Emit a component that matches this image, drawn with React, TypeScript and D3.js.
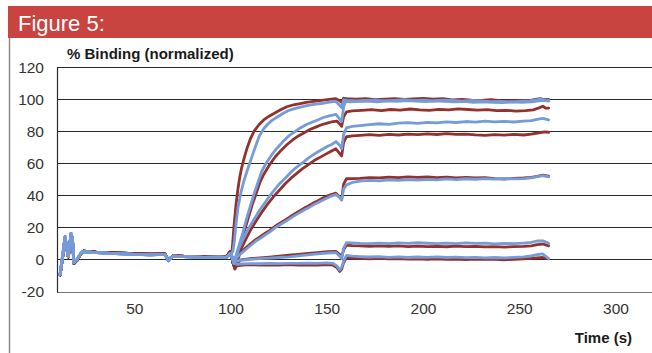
import React, { useEffect, useRef } from 'react';
import * as d3 from 'd3';

type Pt = [number, number];

// shared pre-injection baseline (all curves sit on top of each other here)
const baselineRed: Pt[] = [
  [11.2, -9.7], [12.5, 1], [13.8, 13], [14.8, 6], [15.5, 1.5], [16.9, 15.5], [17.6, 13],
  [18.4, -2.5], [20, -0.5], [22, 3.5], [23.3, 5.2], [30, 4.6], [40, 4], [50, 3.6],
  [58, 3.3], [65.7, 3.4], [67.4, -0.3], [70, 2.3], [78, 1.8], [86, 1.6], [94, 1.7], [97.8, 1.8], [99.5, 4.8]
];
const baselineBlue: Pt[] = [
  [11.2, -9.5], [12.5, 2], [13.8, 14.2], [14.8, 6.5], [15.5, 1.7], [16.9, 16.3], [17.6, 13.5],
  [18.4, -2], [20, 0], [22, 3.8], [23.3, 4.8], [30, 4.2], [40, 3.6], [50, 3.2],
  [58, 2.9], [65.7, 3.2], [67.4, -0.8], [70, 2.1], [78, 1.6], [86, 1.3], [94, 1.4], [97.8, 1.3], [99.5, 3.5]
];

// association (100-157 s) + dissociation (158-265 s), one array per trace
const aRed: Pt[] = [
  [100, 3], [100.6, 6], [101.5, 20], [102.5, 33], [103.5, 43], [104.5, 51], [105.5, 57], [107, 64],
  [108.5, 70], [110, 75], [112, 80], [114.5, 84], [117, 87], [120, 89.5], [123, 91.5], [126, 93.5],
  [129, 95.2], [133, 96.6], [136, 97.2], [139, 98], [143, 98.6], [147, 99.2], [151, 99.8], [154.5, 100.2],
  [156.5, 99], [157.5, 97.8], [158.5, 100.5], [160, 100.3], [165, 100], [170, 100.2], [175, 99.6],
  [180, 100], [185, 100.3], [190, 99.8], [195, 100.1], [200, 100.4], [205, 99.9], [210, 100.2],
  [215, 99.5], [220, 99.8], [225, 99.3], [230, 99.1], [235, 99.6], [240, 99], [245, 98.8], [250, 99.2],
  [255, 99], [258, 99.8], [261, 100.2], [263, 99.6], [265, 99.8]
];
const aBlue: Pt[] = [
  [100, 3.5], [101, 5], [101.8, 12], [102.6, 22], [103.6, 32], [105, 41], [106.5, 48], [108.3, 55],
  [110, 61], [112, 68], [114.7, 77], [117, 81.5], [119, 84.3], [121.3, 86.7], [124, 88.8], [127, 91],
  [129.6, 92.7], [133, 94], [136, 95], [140, 96], [144, 96.8], [148, 97.4], [152, 98.2], [154.5, 98.5],
  [156.5, 96], [157.5, 94.7], [158.5, 99.5], [160, 99.2], [165, 98.8], [170, 99.1], [175, 99.4],
  [180, 98.9], [185, 99.2], [190, 99.6], [195, 99], [200, 99.3], [205, 98.8], [210, 99.4], [215, 99.1],
  [220, 98.7], [225, 99.2], [230, 98.8], [235, 98.4], [240, 98.6], [245, 98.2], [250, 98.5], [255, 98.8],
  [258, 99.4], [261, 99.9], [263, 99.3], [265, 99.1]
];
const bRed: Pt[] = [
  [100, 4], [101, -2], [102, -4], [103, 2], [105, 10], [107, 18], [109, 26], [111, 34], [113, 41],
  [115, 48], [117, 53], [120, 59], [123, 64], [126, 68], [129, 71.5], [132, 74.5], [135, 77], [138, 79],
  [141, 81], [144, 82.5], [147, 84], [150, 85], [153, 86], [155, 86.3], [156.5, 84.5], [157.5, 83],
  [158.5, 89], [160, 92], [163, 92.6], [168, 93], [173, 93.4], [178, 92.8], [183, 93.5], [188, 93.1],
  [193, 93.8], [198, 93.3], [203, 93], [208, 93.6], [213, 93.2], [218, 93.9], [223, 93.5], [228, 93.1],
  [233, 93.4], [238, 92.8], [243, 93], [248, 92.5], [253, 92.8], [257, 93.3], [260, 94.5], [262, 95.5],
  [263.5, 94.3], [265, 94.4]
];
const bBlue: Pt[] = [
  [100, 3.5], [101.5, -1], [102.5, 2], [104, 8], [106, 16], [108, 25], [110, 33], [112, 41], [114, 48],
  [116, 55], [118, 59.5], [121, 65], [124, 69.5], [127, 73.5], [130, 77], [133, 79.5], [136, 82],
  [139, 84], [142, 85.5], [145, 87], [148, 88.5], [151, 89.5], [154.5, 90.5], [156.5, 87.5], [157.5, 86],
  [158.5, 95], [159.5, 98.5], [162, 98.2], [166, 98.5], [171, 98.8], [176, 98.3], [181, 98.9],
  [186, 98.6], [191, 99], [196, 98.7], [201, 98.4], [206, 98.9], [211, 98.6], [216, 98.2], [221, 98.5],
  [226, 98], [231, 98.3], [236, 98], [241, 97.8], [246, 98.2], [251, 97.9], [256, 98.3], [260, 98.9],
  [263, 99.2], [265, 98.8]
];
const cRed: Pt[] = [
  [100, 4], [101, -2], [102, -5], [103, -1], [105, 6], [107, 11], [110, 18], [113, 24], [116, 29.5],
  [119, 34.5], [122, 39], [125, 43], [128, 47], [131, 50.5], [134, 53.5], [137, 56.5], [140, 59],
  [143, 61.5], [146, 63.5], [149, 65.5], [152, 67.5], [154.5, 69], [156.5, 66], [157.5, 64.5],
  [158.5, 73], [160, 76.5], [163, 77], [167, 77.3], [172, 77.8], [177, 77.4], [182, 78], [187, 77.6],
  [192, 78.1], [197, 77.8], [202, 78.3], [207, 77.9], [212, 78.4], [217, 78], [222, 78.2], [227, 77.7],
  [232, 77.4], [237, 77.8], [242, 77.5], [247, 78], [252, 77.6], [256, 78.2], [260, 79], [263, 79.5],
  [265, 79.3]
];
const cBlue: Pt[] = [
  [100, 3.5], [101.5, -2], [102.5, 1], [104, 6.5], [106, 12], [108, 17], [110, 21], [112, 25], [115, 31],
  [118, 36], [120, 39.5], [123, 44], [125, 47], [128, 50.5], [130, 53], [133, 56.5], [135, 58.4],
  [138, 61], [140, 63], [143, 65.5], [145, 67], [148, 69], [150, 70.4], [152, 71.5], [154.5, 73.5],
  [156.5, 71], [157.5, 69], [158.5, 78], [160, 82], [163, 83], [167, 83.5], [172, 84], [177, 84.6],
  [182, 84.2], [187, 85], [192, 85.3], [197, 84.8], [202, 85.5], [207, 85.1], [212, 85.8], [217, 85.4],
  [222, 86], [227, 85.6], [232, 86.2], [237, 85.8], [242, 86.1], [247, 85.7], [252, 86.2], [256, 86.5],
  [259, 87.3], [262, 88], [265, 87]
];
const dRed: Pt[] = [
  [100, 4], [101, -2], [102, -5], [103, -1.5], [105, 4.5], [108, 7.5], [110, 9.5], [113, 12.5], [115, 14],
  [118, 16.5], [120, 18], [123, 20.8], [125, 22.3], [128, 24.5], [130, 26], [133, 28.3], [135, 29.8],
  [138, 32], [140, 33.2], [143, 35.3], [145, 36.5], [148, 38.5], [150, 39.5], [152, 40.5], [154.5, 41.3],
  [156.5, 39], [157.5, 37.5], [158.5, 47], [160, 50.3], [163, 50.4], [167, 50.6], [172, 51], [177, 50.8],
  [182, 51.3], [187, 51], [192, 51.5], [197, 51.2], [202, 51.4], [207, 51], [212, 51.3], [217, 50.9],
  [222, 51.2], [227, 50.8], [232, 51], [237, 50.4], [242, 50.1], [247, 50.5], [252, 50.8], [256, 51.2],
  [259, 51.8], [262, 52.5], [265, 52]
];
const dBlue: Pt[] = [
  [100, 3.5], [101.5, -2.4], [102.5, 0.5], [105, 3.5], [108, 6.5], [110, 8.5], [113, 11.5], [115, 13],
  [118, 15.5], [120, 17], [123, 19.8], [125, 21.3], [128, 23.5], [130, 25], [133, 27.3], [135, 28.7],
  [138, 30.8], [140, 32], [143, 34.2], [145, 35.3], [148, 37.2], [150, 38.3], [152, 39.5], [154.5, 40.5],
  [156.5, 38.5], [157.5, 37], [158.5, 44], [160, 46.5], [163, 48], [167, 48.8], [172, 49.3], [177, 49],
  [182, 49.6], [187, 49.3], [192, 49.8], [197, 49.5], [202, 49.9], [207, 49.6], [212, 50.2], [217, 49.8],
  [222, 50.3], [227, 50], [232, 50.4], [237, 50.1], [242, 50.5], [247, 50.2], [252, 50.4], [256, 50.8],
  [259, 51.6], [262, 52.2], [265, 51.5]
];
const eRed: Pt[] = [
  [100, 4], [101, -2], [102, -5.5], [103, -3], [105, -0.3], [110, 0.5], [115, 1], [120, 1.5], [125, 2],
  [130, 2.6], [135, 3.2], [140, 3.8], [145, 4.3], [150, 4.8], [154.5, 5], [156.5, 3], [157.5, 1.5],
  [158.5, 6], [160, 9], [163, 8.6], [167, 8.4], [172, 8.2], [177, 8.5], [182, 8.1], [187, 8.4], [192, 8],
  [197, 8.3], [202, 8], [207, 8.2], [212, 7.9], [217, 8.3], [222, 8], [227, 8.2], [232, 7.8], [237, 8],
  [242, 7.7], [247, 8], [252, 8.2], [256, 8.5], [259, 9.2], [262, 9.6], [265, 8.5]
];
const eBlue: Pt[] = [
  [100, 3.5], [101.5, -2.4], [102.5, -1], [105, -0.5], [110, 0], [115, 0.5], [120, 0.8], [125, 1.2],
  [130, 1.6], [135, 2.2], [140, 2.8], [145, 3.4], [150, 4], [154.5, 4.3], [156.5, 2], [157.5, 0.5],
  [158.5, 7], [160, 10.5], [163, 10.3], [167, 10], [172, 9.8], [177, 10.2], [182, 9.9], [187, 10.3],
  [192, 10], [197, 10.4], [202, 10.1], [207, 9.8], [212, 10.2], [217, 9.9], [222, 10.3], [227, 10],
  [232, 10.2], [237, 9.7], [242, 10], [247, 9.8], [252, 10.2], [256, 10.6], [259, 11.5], [262, 11.6],
  [265, 10]
];
const fRed: Pt[] = [
  [100, 4], [101, -2], [102, -6], [103, -4], [106, -3.5], [110, -3.3], [115, -3.5], [120, -3.4],
  [125, -3.6], [130, -3.3], [135, -3.5], [140, -3.4], [145, -3.6], [150, -3.3], [153, -3.6], [155, -5],
  [156.5, -7.5], [157.5, -6], [158.5, -2], [160, 1], [163, 0.8], [167, 0.6], [172, 0.4], [177, 0.7],
  [182, 0.3], [187, 0.5], [192, 0.2], [197, 0.4], [202, 0.1], [207, 0.3], [212, 0], [217, 0.2],
  [222, -0.1], [227, 0.2], [232, 0], [237, 0.1], [242, -0.2], [247, 0.1], [252, 0.3], [256, 0.6],
  [259, 1], [262, 1.2], [265, 0.4]
];
const fBlue: Pt[] = [
  [100, 3.5], [101.5, -2.4], [103, -3], [106, -2.8], [110, -2.6], [115, -2.7], [120, -2.5], [125, -2.6],
  [130, -2.4], [135, -2.5], [140, -2.3], [145, -2.4], [150, -2.2], [153, -2.5], [155, -4], [156.5, -6.5],
  [157.5, -5], [158.5, -1], [160, 2.5], [163, 2], [167, 1.8], [172, 1.5], [177, 1.7], [182, 1.3],
  [187, 1.6], [192, 1.2], [197, 1.5], [202, 1.3], [207, 1.6], [212, 1.2], [217, 1.4], [222, 1.1],
  [227, 1.3], [232, 1], [237, 1.2], [242, 1], [247, 1.3], [252, 1.6], [256, 2.2], [259, 3], [262, 3.4],
  [265, 0.5]
];

const redTraces = [aRed, bRed, cRed, dRed, eRed, fRed];
const blueTraces = [aBlue, bBlue, cBlue, dBlue, eBlue, fBlue];

const yTicks = [-20, 0, 20, 40, 60, 80, 100, 120];
const xTicks = [50, 100, 150, 200, 250, 300];

const FONT = '"Liberation Sans", Arial, Helvetica, sans-serif';

export default function App() {
  const svgRef = useRef<SVGSVGElement>(null);

  useEffect(() => {
    if (!svgRef.current) return;
    const svg = d3.select(svgRef.current);
    svg.selectAll('*').remove();

    const plotLeft = 57;
    const plotRight = 652;

    const x = d3.scaleLinear().domain([100, 300]).range([231, 616]);
    const y = d3.scaleLinear().domain([-20, 120]).range([291.5, 67]);

    // red title bar
    svg.append('rect')
      .attr('x', 8).attr('y', 6)
      .attr('width', 644).attr('height', 32)
      .attr('fill', '#c94341');
    svg.append('text')
      .attr('x', 18).attr('y', 31)
      .attr('font-family', FONT)
      .attr('font-size', 22)
      .attr('fill', '#fff')
      .text('Figure 5:');

    // frame line on the left
    svg.append('line')
      .attr('x1', 9.5).attr('x2', 9.5)
      .attr('y1', 38).attr('y2', 353)
      .attr('stroke', '#8a8a8a')
      .attr('stroke-width', 1.5);

    // gridlines
    svg.append('g')
      .selectAll('line')
      .data(yTicks)
      .join('line')
        .attr('x1', plotLeft).attr('x2', plotRight)
        .attr('y1', d => Math.round(y(d)) + 0.5)
        .attr('y2', d => Math.round(y(d)) + 0.5)
        .attr('stroke', d => (d === -20 ? '#777' : '#2a2a2a'))
        .attr('stroke-width', 1.2);

    // left axis
    svg.append('line')
      .attr('x1', plotLeft + 0.5).attr('x2', plotLeft + 0.5)
      .attr('y1', Math.round(y(120)) + 0.5).attr('y2', Math.round(y(-20)) + 0.5)
      .attr('stroke', '#2a2a2a')
      .attr('stroke-width', 1.2);

    // tick labels
    svg.append('g')
      .selectAll('text')
      .data(yTicks)
      .join('text')
        .attr('x', 44)
        .attr('y', d => y(d))
        .attr('dy', '0.36em')
        .attr('text-anchor', 'end')
        .attr('font-family', FONT)
        .attr('font-size', 15.5)
        .attr('fill', '#333')
        .text(d => d);

    svg.append('g')
      .selectAll('text')
      .data(xTicks)
      .join('text')
        .attr('x', d => x(d))
        .attr('y', 314)
        .attr('text-anchor', 'middle')
        .attr('font-family', FONT)
        .attr('font-size', 15.5)
        .attr('fill', '#333')
        .text(d => d);

    // axis titles
    svg.append('text')
      .attr('x', 67).attr('y', 59)
      .attr('font-family', FONT)
      .attr('font-size', 15)
      .attr('font-weight', 'bold')
      .attr('fill', '#1a1a1a')
      .text('% Binding (normalized)');
    svg.append('text')
      .attr('x', 632).attr('y', 343)
      .attr('text-anchor', 'end')
      .attr('font-family', FONT)
      .attr('font-size', 15)
      .attr('font-weight', 'bold')
      .attr('fill', '#1a1a1a')
      .text('Time (s)');

    const line = d3.line<Pt>()
      .x(d => x(d[0]))
      .y(d => y(d[1]));

    const traces = svg.append('g')
      .attr('fill', 'none')
      .attr('stroke-width', 2.8)
      .attr('stroke-linejoin', 'round')
      .attr('stroke-linecap', 'round');

    // red traces underneath, blue on top
    traces.selectAll('path.red')
      .data(redTraces)
      .join('path')
        .attr('class', 'red')
        .attr('stroke', '#93312d')
        .attr('d', d => line(baselineRed.concat(d)));

    traces.selectAll('path.blue')
      .data(blueTraces)
      .join('path')
        .attr('class', 'blue')
        .attr('stroke', '#759bd8')
        .attr('d', d => line(baselineBlue.concat(d)));
  }, []);

  return (
    <svg
      ref={svgRef}
      width={652}
      height={353}
      style={{ position: 'absolute', left: 0, top: 0, background: '#fff', display: 'block' }}
    />
  );
}
